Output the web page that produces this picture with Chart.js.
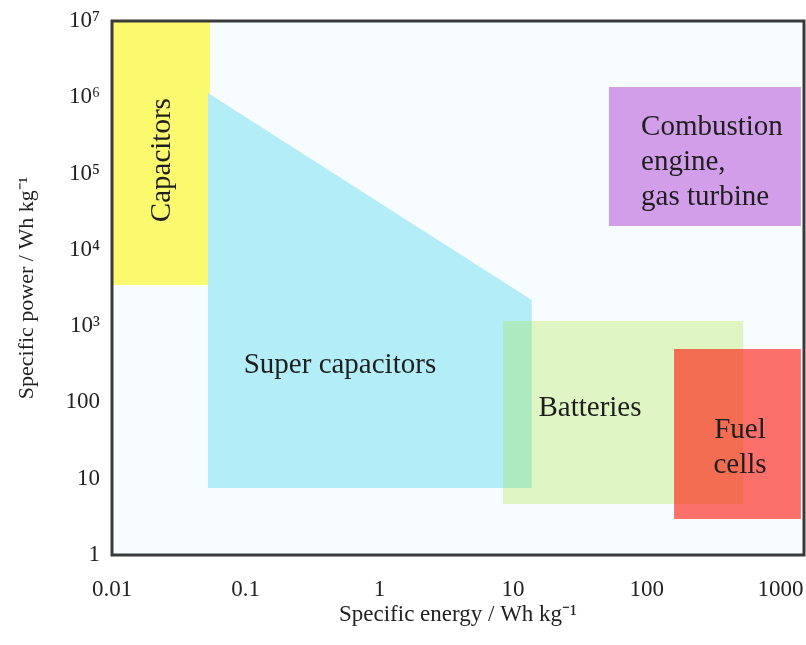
<!DOCTYPE html>
<html lang="en">
<head>
  <meta charset="UTF-8">
  <title>Ragone plot</title>
  <script src="https://cdn.jsdelivr.net/npm/chart.js"></script>
  <style>
    body {
      margin: 0;
      background: #fff;
    }
    .chart-box {
      position: relative;
      width: 806px;
      height: 645px;
    }
  </style>
</head>
<body>
  <div class="chart-box">
    <canvas id="ragone"></canvas>
  </div>

  <script>
    // axis ticks
    const xTicks = [0.01, 0.1, 1, 10, 100, 1000];
    const xTickLabels = ['0.01', '0.1', '1', '10', '100', '1000'];
    const yTicks = [1, 10, 100, 1e3, 1e4, 1e5, 1e6, 1e7];
    const yTickLabels = ['1', '10', '100', '10³', '10⁴', '10⁵', '10⁶', '10⁷'];

    // region outlines as [specific energy, specific power]
    const capacitors = [[0.01, 3460], [0.01, 1e7], [0.054, 1e7], [0.054, 3460], [0.01, 3460]];
    const superCapacitors = [[0.0522, 7.55], [0.0522, 1.14e6], [13.8, 2200], [13.8, 7.55], [0.0522, 7.55]];
    const batteries = [[8.4, 4.66], [8.4, 1167], [525, 1167], [525, 4.66], [8.4, 4.66]];
    const fuelCells = [[160, 2.96], [160, 501], [1422, 501], [1422, 2.96], [160, 2.96]];
    const combustion = [[52.1, 20500], [52.1, 1.36e6], [1422, 1.36e6], [1422, 20500], [52.1, 20500]];

    // region names and where they sit
    const labelTexts = [['Capacitors'], ['Super capacitors'], ['Batteries'], ['Fuel', 'cells'], ['Combustion', 'engine,', 'gas turbine']];
    const labelX = [0.024, 0.507, 37.6, 498, 90.6];
    const labelY = [1.5e5, 309, 84.5, 25.3, 1.42e5];

    const toPoints = arr => arr.map(p => ({ x: p[0], y: p[1] }));

    function region(pts, color, order) {
      return {
        data: toPoints(pts),
        showLine: true,
        fill: 'shape',
        backgroundColor: color,
        borderWidth: 0,
        borderColor: 'transparent',
        pointRadius: 0,
        order: order
      };
    }

    const serif = '"Liberation Serif", "Times New Roman", serif';

    const plotBackground = {
      id: 'plotBackground',
      beforeDraw(chart) {
        const { ctx, chartArea: a } = chart;
        ctx.save();
        ctx.fillStyle = '#f7fcfe';
        ctx.fillRect(a.left, a.top, a.right - a.left, a.bottom - a.top);
        ctx.restore();
      },
      afterDraw(chart) {
        const { ctx, chartArea: a } = chart;
        ctx.save();
        ctx.strokeStyle = '#3a3a3a';
        ctx.lineWidth = 3;
        ctx.strokeRect(a.left, a.top, a.right - a.left, a.bottom - a.top);
        ctx.restore();
      }
    };

    const regionLabels = {
      id: 'regionLabels',
      afterDatasetsDraw(chart) {
        const { ctx, scales } = chart;
        ctx.save();
        ctx.fillStyle = '#1e1e1e';
        ctx.font = '29px ' + serif;
        ctx.textBaseline = 'middle';
        labelTexts.forEach((lines, i) => {
          const px = scales.x.getPixelForValue(labelX[i]);
          const py = scales.y.getPixelForValue(labelY[i]);
          if (i === 0) {
            ctx.save();
            ctx.translate(px, py);
            ctx.rotate(-Math.PI / 2);
            ctx.textAlign = 'center';
            ctx.fillText(lines[0], 0, 0);
            ctx.restore();
            return;
          }
          ctx.textAlign = i === 4 ? 'left' : 'center';
          const lh = 35;
          lines.forEach((t, j) => {
            ctx.fillText(t, px, py + (j - (lines.length - 1) / 2) * lh);
          });
        });
        ctx.restore();
      }
    };

    const config = {
      type: 'scatter',
      data: {
        datasets: [
          region(capacitors, '#fbf96e', 5),
          region(superCapacitors, '#b3eef8', 4),
          region(batteries, 'rgba(156, 224, 22, 0.25)', 3),
          region(fuelCells, 'rgba(255, 10, 0, 0.58)', 2),
          region(combustion, '#d29eea', 1)
        ]
      },
      options: {
        responsive: true,
        maintainAspectRatio: false,
        animation: false,
        layout: { padding: { left: 0, right: 2, top: 21, bottom: 0 } },
        plugins: {
          legend: { display: false },
          tooltip: { enabled: false }
        },
        scales: {
          x: {
            type: 'logarithmic',
            min: 0.01,
            max: 1500,
            grid: { display: false, drawTicks: false },
            border: { display: false },
            afterBuildTicks: s => { s.ticks = xTicks.map(v => ({ value: v })); },
            afterFit: s => { s.height = 90; s.paddingLeft = 0; s.paddingRight = 0; },
            ticks: {
              padding: 21,
              color: '#222',
              font: { family: serif, size: 23 },
              maxRotation: 0,
              callback: (v) => xTickLabels[xTicks.indexOf(v)]
            },
            title: {
              display: true,
              text: 'Specific energy / Wh kg⁻¹',
              color: '#222',
              font: { family: serif, size: 23 },
              padding: { top: 0, bottom: 16 }
            }
          },
          y: {
            type: 'logarithmic',
            min: 1,
            max: 1e7,
            grid: { display: false, drawTicks: false },
            border: { display: false },
            afterBuildTicks: s => { s.ticks = yTicks.map(v => ({ value: v })); },
            afterFit: s => { s.width = 112; s.paddingTop = 0; s.paddingBottom = 0; },
            ticks: {
              padding: 12,
              color: '#222',
              font: { family: serif, size: 23 },
              callback: (v) => yTickLabels[yTicks.indexOf(v)]
            },
            title: {
              display: true,
              text: 'Specific power / Wh kg⁻¹',
              color: '#222',
              font: { family: serif, size: 22 },
              padding: { top: 14, bottom: 0 }
            }
          }
        }
      },
      plugins: [plotBackground, regionLabels]
    };

    const chart = new Chart(document.getElementById('ragone'), config);
  </script>
</body>
</html>
